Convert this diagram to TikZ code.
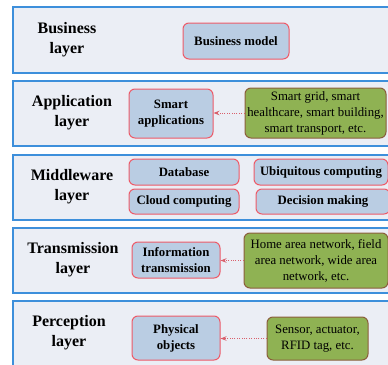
\documentclass[tikz,border=0pt]{standalone}
\usepackage{fontspec}
\setmainfont{Liberation Serif}
\usetikzlibrary{arrows.meta}
\definecolor{layerfill}{HTML}{EBEEF5}
\definecolor{layerline}{HTML}{3D8FDB}
\definecolor{bluefill}{HTML}{BACDE3}
\definecolor{redline}{HTML}{EE5A68}
\definecolor{arrowred}{HTML}{D9606C}
\definecolor{greenfill}{HTML}{8FB253}
\definecolor{brownline}{HTML}{8B5E3C}
\tikzset{
  layerbox/.style={draw=layerline, line width=1.4pt, fill=layerfill},
  layerlabel/.style={font=\fontsize{16}{20}\selectfont\bfseries, align=center, inner sep=0pt},
  bluebox/.style={draw=redline, line width=1pt, fill=bluefill, rounded corners=6pt,
    font=\fontsize{12.8}{16}\selectfont\bfseries, align=center, inner sep=0pt},
  greenbox/.style={draw=brownline, line width=1pt, fill=greenfill, rounded corners=6pt,
    font=\fontsize{12.8}{16}\selectfont, align=center, inner sep=0pt},
  feed/.style={draw=arrowred, line width=0.9pt, dash pattern=on 1pt off 1.4pt,
    -{Stealth[length=6pt,width=4.5pt,fill=arrowred]}}
}
\begin{document}
\begin{tikzpicture}[x=1pt,y=-1pt]
\useasboundingbox (0,0) rectangle (388,364);
\fill[white] (0,0) rectangle (388,364);
% layers
\draw[layerbox] (13,7) rectangle (400,73);
\draw[layerbox] (13,81) rectangle (400,146);
\draw[layerbox] (13,155) rectangle (400,220);
\draw[layerbox] (13,228) rectangle (400,293);
\draw[layerbox] (13,301) rectangle (400,372);
% labels
\node[layerlabel] (lbus) at (67,40) {Business\\layer};
\node[layerlabel] (lapp) at (72,113) {Application\\layer};
\node[layerlabel] (lmid) at (72,187) {Middleware\\layer};
\node[layerlabel] (ltra) at (73,260) {Transmission\\layer};
\node[layerlabel] (lper) at (69,333) {Perception\\layer};
% business
\node[bluebox, minimum width=106pt, minimum height=36pt] (bm) at (236,41) {Business model};
% application
\node[bluebox, minimum width=84pt, minimum height=49pt] (sa) at (171,113.5) {Smart\\applications};
\node[greenbox, minimum width=141pt, minimum height=50pt] (ga) at (315.5,113) {Smart grid, smart\\healthcare, smart building,\\smart transport, etc.};
\draw[feed] (ga.west) -- (sa.east |- ga.west);
% middleware
\node[bluebox, minimum width=110pt, minimum height=26pt] (db) at (184,172) {Database};
\node[bluebox, minimum width=110pt, minimum height=25pt] (cc) at (184,201.5) {Cloud computing};
\node[bluebox, minimum width=134pt, minimum height=26pt] (uc) at (321,172) {Ubiquitous computing};
\node[bluebox, minimum width=134pt, minimum height=25pt] (dm) at (323,201.5) {Decision making};
% transmission
\node[bluebox, minimum width=88pt, minimum height=36pt] (it) at (176,260) {Information\\transmission};
\node[greenbox, minimum width=144pt, minimum height=55pt] (gt) at (316,260.5) {Home area network, field\\area network, wide area\\network, etc.};
\draw[feed] (gt.west) -- (it.east |- gt.west);
% perception
\node[bluebox, minimum width=88pt, minimum height=44pt] (po) at (176,338) {Physical\\objects};
\node[greenbox, minimum width=101pt, minimum height=43pt] (gp) at (317.5,338.5) {Sensor, actuator,\\RFID tag, etc.};
\draw[feed] (gp.west) -- (po.east |- gp.west);
\end{tikzpicture}
\end{document}
